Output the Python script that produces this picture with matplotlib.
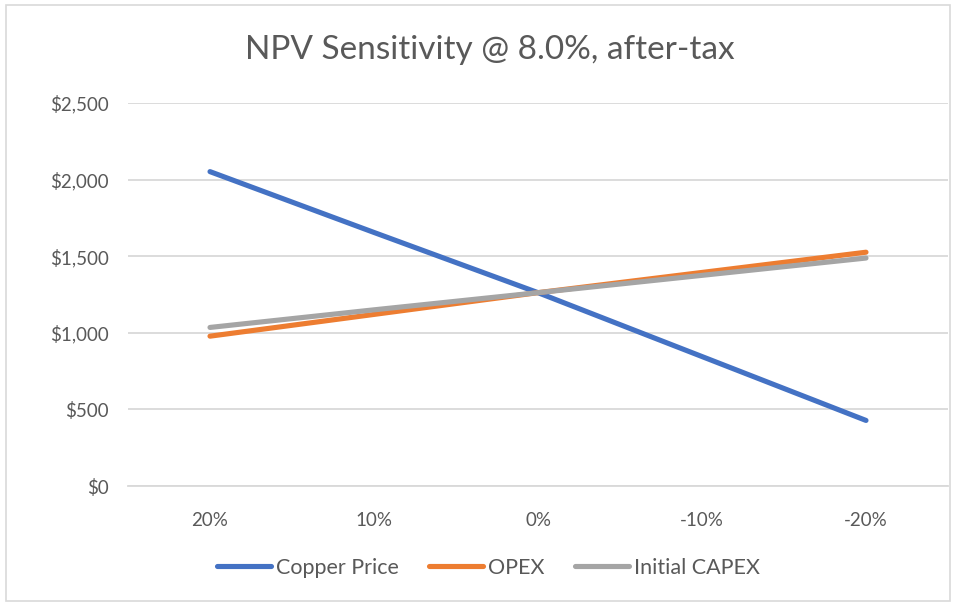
import matplotlib.pyplot as plt
from matplotlib.patches import Rectangle
from matplotlib.ticker import FuncFormatter

plt.rcParams['font.family'] = ['Lato', 'DejaVu Sans']

# Data
categories = ["20%", "10%", "0%", "-10%", "-20%"]
copper_price = [2052, 1655, 1262, 845, 428]
opex = [978, 1120, 1262, 1394, 1526]
initial_capex = [1035, 1150, 1262, 1375, 1488]

series_names = ["Copper Price", "OPEX", "Initial CAPEX"]
colors = ["#4472C4", "#ED7D31", "#A5A5A5"]

fig = plt.figure(figsize=(9.56, 6.05), dpi=100)
ax = fig.add_axes([128 / 956, 1 - 486 / 605, 820 / 956, 383 / 605])

x = list(range(len(categories)))
for vals, name, c in zip([copper_price, opex, initial_capex], series_names, colors):
    ax.plot(x, vals, color=c, lw=3.7, solid_capstyle="round", label=name, zorder=3)

ax.set_xlim(-0.5, len(categories) - 0.5)
ax.set_ylim(0, 2500)
ax.set_yticks(range(0, 2501, 500))
ax.yaxis.set_major_formatter(FuncFormatter(lambda v, p: f"${v:,.0f}"))
ax.set_xticks(x)
ax.set_xticklabels(categories)

ax.grid(axis="y", color="#D9D9D9", lw=1.3, zorder=0)
for s in ["top", "right", "left"]:
    ax.spines[s].set_visible(False)
ax.spines["bottom"].set_color("#D9D9D9")
ax.spines["bottom"].set_linewidth(1.3)
ax.tick_params(length=0, labelsize=13.5, colors="#595959", pad=14)
ax.tick_params(axis="x", pad=19)

fig.text(0.512, 1 - 50 / 605, "NPV Sensitivity @ 8.0%, after-tax", ha="center", va="center",
         fontsize=24, color="#595959")

leg = fig.legend(loc="center", bbox_to_anchor=(0.511, 1 - 568 / 605), ncol=3, frameon=False,
                 fontsize=15.5, handlelength=2.5, columnspacing=1.4, handletextpad=0.25)
for t in leg.get_texts():
    t.set_color("#595959")

# outer chart border
fig.patches.append(Rectangle((6 / 956, 4 / 605), 944 / 956, 596 / 605, transform=fig.transFigure,
                             fill=False, edgecolor="#D9D9D9", lw=1.2))

fig.savefig("out.png", dpi=100)
